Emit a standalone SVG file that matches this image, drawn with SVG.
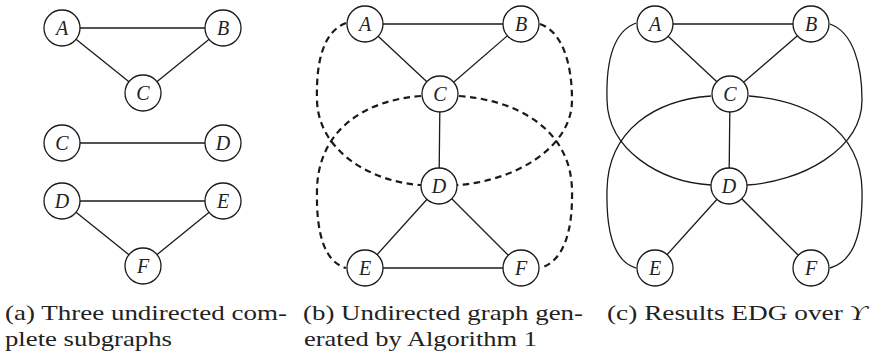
<svg xmlns="http://www.w3.org/2000/svg" width="872" height="357" viewBox="0 0 872 357">
<style>
.e{stroke:#1a1a1a;stroke-width:1.3;fill:none}
.d{stroke:#1a1a1a;stroke-width:2.2;fill:none;stroke-dasharray:6.5 4.5}
.n circle{fill:#fff;stroke:#1a1a1a;stroke-width:1.3}
text.lbl{font-family:"Liberation Serif",serif !important;font-style:italic;font-size:20px !important;fill:#222;text-anchor:middle}
text.cap{font-family:"Liberation Serif",serif !important;font-size:22px !important;fill:#222}
</style>
<rect width="872" height="357" fill="#fff"/>
<g id="connectors">
<line class="e" x1="62" y1="28" x2="223" y2="28"/>
<line class="e" x1="62" y1="28" x2="143" y2="93"/>
<line class="e" x1="223" y1="28" x2="143" y2="93"/>
<line class="e" x1="62" y1="143" x2="223" y2="143"/>
<line class="e" x1="62" y1="201" x2="223" y2="201"/>
<line class="e" x1="62" y1="201" x2="143" y2="266"/>
<line class="e" x1="223" y1="201" x2="143" y2="266"/>
<line class="e" x1="365" y1="24" x2="521" y2="24"/>
<line class="e" x1="365" y1="24" x2="440" y2="94"/>
<line class="e" x1="521" y1="24" x2="440" y2="94"/>
<line class="e" x1="440" y1="94" x2="439" y2="186"/>
<line class="e" x1="439" y1="186" x2="365" y2="268"/>
<line class="e" x1="439" y1="186" x2="521" y2="268"/>
<line class="e" x1="365" y1="268" x2="521" y2="268"/>
<path class="d" d="M346,23 C322,32 316,65 317,100 C318,150 370,182 421,185"/>
<path class="d" d="M421,96 C365,100 318,130 317,190 C316,235 325,262 346,268"/>
<path class="d" d="M540,24 C563,32 572,65 572,100 C572,150 510,182 457,185"/>
<path class="d" d="M459,96 C518,100 571,130 572,190 C573,235 562,262 540,268"/>
<line class="e" x1="655" y1="24" x2="811" y2="24"/>
<line class="e" x1="655" y1="24" x2="730" y2="94"/>
<line class="e" x1="811" y1="24" x2="730" y2="94"/>
<line class="e" x1="730" y1="94" x2="729" y2="186"/>
<line class="e" x1="729" y1="186" x2="655" y2="268"/>
<line class="e" x1="729" y1="186" x2="811" y2="268"/>
<path class="e" d="M636,23 C612,32 606,65 607,100 C608,150 660,182 711,185"/>
<path class="e" d="M711,96 C655,100 608,130 607,190 C606,235 615,262 636,268"/>
<path class="e" d="M830,24 C853,32 862,65 862,100 C862,150 800,182 747,185"/>
<path class="e" d="M749,96 C808,100 861,130 862,190 C863,235 852,262 830,268"/>
</g>
<g id="a-A" class="n"><circle cx="62" cy="28" r="18"/><text class="lbl" style="font-family:'Liberation Serif',serif !important;font-size:20px !important" x="62" y="35">A</text></g>
<g id="a-B" class="n"><circle cx="223" cy="28" r="18"/><text class="lbl" style="font-family:'Liberation Serif',serif !important;font-size:20px !important" x="223" y="35">B</text></g>
<g id="a-C" class="n"><circle cx="143" cy="93" r="18"/><text class="lbl" style="font-family:'Liberation Serif',serif !important;font-size:20px !important" x="143" y="100">C</text></g>
<g id="a-C2" class="n"><circle cx="62" cy="143" r="18"/><text class="lbl" style="font-family:'Liberation Serif',serif !important;font-size:20px !important" x="62" y="150">C</text></g>
<g id="a-D" class="n"><circle cx="223" cy="143" r="18"/><text class="lbl" style="font-family:'Liberation Serif',serif !important;font-size:20px !important" x="223" y="150">D</text></g>
<g id="a-D2" class="n"><circle cx="62" cy="201" r="18"/><text class="lbl" style="font-family:'Liberation Serif',serif !important;font-size:20px !important" x="62" y="208">D</text></g>
<g id="a-E" class="n"><circle cx="223" cy="201" r="18"/><text class="lbl" style="font-family:'Liberation Serif',serif !important;font-size:20px !important" x="223" y="208">E</text></g>
<g id="a-F" class="n"><circle cx="143" cy="266" r="18"/><text class="lbl" style="font-family:'Liberation Serif',serif !important;font-size:20px !important" x="143" y="273">F</text></g>
<g id="b-A" class="n"><circle cx="365" cy="24" r="18"/><text class="lbl" style="font-family:'Liberation Serif',serif !important;font-size:20px !important" x="365" y="31">A</text></g>
<g id="b-B" class="n"><circle cx="521" cy="24" r="18"/><text class="lbl" style="font-family:'Liberation Serif',serif !important;font-size:20px !important" x="521" y="31">B</text></g>
<g id="b-C" class="n"><circle cx="440" cy="94" r="18"/><text class="lbl" style="font-family:'Liberation Serif',serif !important;font-size:20px !important" x="440" y="101">C</text></g>
<g id="b-D" class="n"><circle cx="439" cy="186" r="18"/><text class="lbl" style="font-family:'Liberation Serif',serif !important;font-size:20px !important" x="439" y="193">D</text></g>
<g id="b-E" class="n"><circle cx="365" cy="268" r="18"/><text class="lbl" style="font-family:'Liberation Serif',serif !important;font-size:20px !important" x="365" y="275">E</text></g>
<g id="b-F" class="n"><circle cx="521" cy="268" r="18"/><text class="lbl" style="font-family:'Liberation Serif',serif !important;font-size:20px !important" x="521" y="275">F</text></g>
<g id="c-A" class="n"><circle cx="655" cy="24" r="18"/><text class="lbl" style="font-family:'Liberation Serif',serif !important;font-size:20px !important" x="655" y="31">A</text></g>
<g id="c-B" class="n"><circle cx="811" cy="24" r="18"/><text class="lbl" style="font-family:'Liberation Serif',serif !important;font-size:20px !important" x="811" y="31">B</text></g>
<g id="c-C" class="n"><circle cx="730" cy="94" r="18"/><text class="lbl" style="font-family:'Liberation Serif',serif !important;font-size:20px !important" x="730" y="101">C</text></g>
<g id="c-D" class="n"><circle cx="729" cy="186" r="18"/><text class="lbl" style="font-family:'Liberation Serif',serif !important;font-size:20px !important" x="729" y="193">D</text></g>
<g id="c-E" class="n"><circle cx="655" cy="268" r="18"/><text class="lbl" style="font-family:'Liberation Serif',serif !important;font-size:20px !important" x="655" y="275">E</text></g>
<g id="c-F" class="n"><circle cx="811" cy="268" r="18"/><text class="lbl" style="font-family:'Liberation Serif',serif !important;font-size:20px !important" x="811" y="275">F</text></g>
<g id="captions">
<text class="cap" style="font-family:'Liberation Serif',serif !important;font-size:22px !important" x="5" y="320" textLength="282" lengthAdjust="spacingAndGlyphs">(a) Three undirected com-</text>
<text class="cap" style="font-family:'Liberation Serif',serif !important;font-size:22px !important" x="5" y="346" textLength="167" lengthAdjust="spacingAndGlyphs">plete subgraphs</text>
<text class="cap" style="font-family:'Liberation Serif',serif !important;font-size:22px !important" x="303" y="320" textLength="280" lengthAdjust="spacingAndGlyphs">(b) Undirected graph gen-</text>
<text class="cap" style="font-family:'Liberation Serif',serif !important;font-size:22px !important" x="304" y="346" textLength="233" lengthAdjust="spacingAndGlyphs">erated by Algorithm 1</text>
<text class="cap" style="font-family:'Liberation Serif',serif !important;font-size:22px !important" x="607" y="320" textLength="260" lengthAdjust="spacingAndGlyphs">(c) Results EDG over <tspan font-style="italic">ϒ</tspan></text>
</g>
</svg>
